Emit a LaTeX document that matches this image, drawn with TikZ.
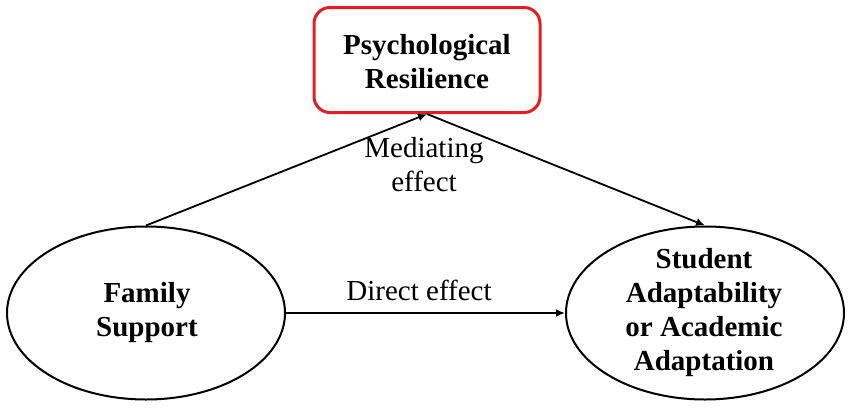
\documentclass[tikz,border=0pt]{standalone}
\usepackage{fontspec}
\setmainfont{Liberation Serif}
\usetikzlibrary{shapes.geometric,arrows.meta}
\definecolor{boxred}{RGB}{226,30,36}
\begin{document}
\begin{tikzpicture}[x=1pt,y=-1pt,
  lbl/.style={font=\fontsize{29}{34}\selectfont, align=center, inner sep=0pt},
  blbl/.style={font=\fontsize{29}{34}\selectfont\bfseries, align=center, inner sep=0pt},
  oval/.style={draw, ellipse, line width=2pt, minimum width=278pt, minimum height=173pt, inner sep=0pt},
  conn/.style={line width=1.8pt, -{Latex[length=9pt,width=8pt]}}]
\useasboundingbox (0,0) rectangle (851,407);
\node[draw=boxred, line width=3pt, rounded corners=16pt, minimum width=226pt, minimum height=105pt, inner sep=0pt] (pr) at (427,60) {};
\node[blbl] (prt) at (427,62) {Psychological\\Resilience};
\node[oval] (fs) at (146,313) {};
\node[blbl] (fst) at (147,313) {Family\\Support};
\node[oval] (sa) at (705,313) {};
\node[blbl] (sat) at (704,313) {Student\\Adaptability\\or Academic\\Adaptation};
\draw[conn] (fs.north) -- (pr.south);
\draw[conn] (pr.south) -- (sa.north);
\draw[conn] (fs.east) -- (sa.west);
\node[lbl] (med) at (424,165) {Mediating\\effect};
\node[lbl] (dir) at (419,290) {Direct effect};
\end{tikzpicture}
\end{document}
